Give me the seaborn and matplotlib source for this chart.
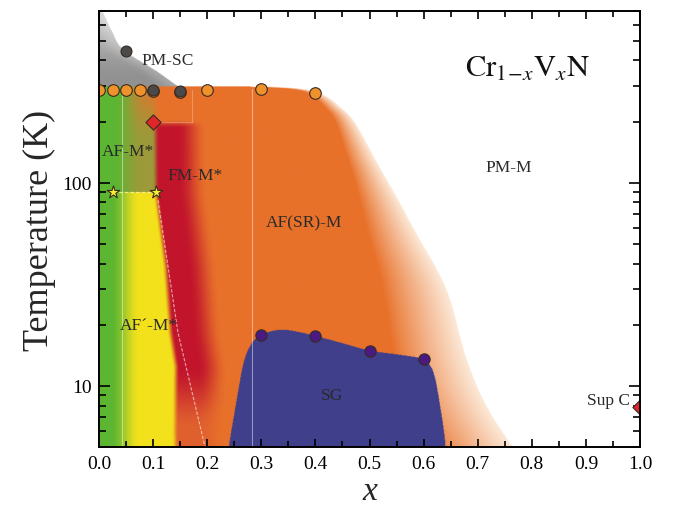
import numpy as np
import matplotlib
matplotlib.use("Agg")
import matplotlib.pyplot as plt
from matplotlib.ticker import MultipleLocator, LogLocator, NullFormatter, FixedLocator
import seaborn as sns
import pandas as pd

# ---------------- data ----------------
# Neel-type transition points (orange circles)
tn_x = [0.0, 0.025, 0.05, 0.075, 0.10, 0.15, 0.20, 0.30, 0.40]
tn_T = [285, 285, 285, 285, 284, 281, 285, 290, 277]
# superconducting / structural points (dark grey circles)
sc_x = [0.05, 0.10, 0.15]
sc_T = [443, 287, 282]
# FM onset (red diamond)
fm_x = [0.10]
fm_T = [200]
# AF' transition (yellow stars)
st_x = [0.025, 0.105]
st_T = [90, 90]
# spin-glass freezing (purple circles)
sg_x = [0.30, 0.40, 0.50, 0.60]
sg_T = [17.8, 17.6, 14.9, 13.6]
# superconductivity of VN (red diamond)
supc_x = [1.0]
supc_T = [7.9]

# phase boundaries (x vs log10 T)
af_edge_x = [0.0, 0.20, 0.33, 0.39, 0.42, 0.445, 0.473, 0.514, 0.556, 0.590, 0.625, 0.649, 0.680, 0.717, 0.767, 0.78]
af_edge_L = [2.474, 2.474, 2.470, 2.455, 2.425, 2.374, 2.296, 2.099, 1.901, 1.734, 1.571, 1.424, 1.128, 0.897, 0.69, 0.64]
af_fade_L = [0.69, 1.45, 1.65, 2.06, 2.30, 2.47]
af_fade_w = [0.15, 0.12, 0.10, 0.055, 0.035, 0.02]
sg_edge_x = [0.232, 0.242, 0.2545, 0.267, 0.279, 0.291, 0.31, 0.335, 0.36, 0.40, 0.45, 0.50, 0.55, 0.595, 0.612, 0.621, 0.630, 0.6395, 0.643]
sg_edge_L = [0.55, 0.734, 0.931, 1.112, 1.194, 1.235, 1.262, 1.276, 1.27, 1.246, 1.21, 1.174, 1.155, 1.135, 1.10, 1.04, 0.91, 0.734, 0.55]
sc_edge_x = [0.004, 0.008, 0.024, 0.045, 0.107, 0.147, 0.165]
sc_edge_L = [2.86, 2.836, 2.745, 2.655, 2.548, 2.474, 2.465]
fm_edge_L = [0.69, 0.77, 1.094, 1.26, 1.586, 1.83, 1.954, 2.6]
fm_edge_x = [0.142, 0.141, 0.143, 0.133, 0.124, 0.112, 0.106, 0.104]

# boundary guide lines
guide_x = [0.109, 0.146, 0.196]
guide_T = [82, 18.3, 5]

T_MIN, T_MAX = 5, 700


def catmull(px, py, n=40):
    """Smooth Catmull-Rom curve through the boundary points."""
    P = np.column_stack([px, py]).astype(float)
    P = np.vstack([P[0], P, P[-1]])
    out = []
    t = np.linspace(0, 1, n, endpoint=False)[:, None]
    for i in range(1, len(P) - 2):
        p0, p1, p2, p3 = P[i - 1], P[i], P[i + 1], P[i + 2]
        out.append(0.5 * ((2 * p1) + (-p0 + p2) * t + (2 * p0 - 5 * p1 + 4 * p2 - p3) * t ** 2
                          + (-p0 + 3 * p1 - 3 * p2 + p3) * t ** 3))
    out.append(P[-2][None, :])
    out = np.vstack(out)
    return out[:, 0], out[:, 1]


# ---------------- colours ----------------
def rgb(h):
    h = h.lstrip("#")
    return np.array([int(h[i:i + 2], 16) for i in (0, 2, 4)]) / 255.0

ORANGE = rgb("#e8712a")
PEACH = rgb("#fce9d8")
GREEN = rgb("#5cb632")
OLIVE = rgb("#9c9a3a")
YELLOW = rgb("#f3e11c")
RED = rgb("#c2152c")
ORED = rgb("#e0602e")
BLUE = rgb("#3f3f8b")

def sm(v, a, b):
    t = np.clip((v - a) / (b - a), 0, 1)
    return t * t * (3 - 2 * t)

def mix(a, b, t):
    t = np.asarray(t)[..., None]
    return a * (1 - t) + b * t

# ---------------- background phase map ----------------
nx, ny = 900, 700
L0, L1 = np.log10(T_MIN), np.log10(T_MAX)
X, L = np.meshgrid((np.arange(nx) + 0.5) / nx,
                   L0 + (np.arange(ny) + 0.5) / ny * (L1 - L0))
img = np.ones((ny, nx, 3))

# AF(SR)-M with its fading edge
cx, cy = catmull(af_edge_x, af_edge_L)
o = np.argsort(cy)
xo = np.interp(L, cy[o], cx[o], right=-1.0)
w = np.interp(L, af_fade_L, af_fade_w)
tf = np.clip((X - (xo - w)) / w, 0, 1)
col_af = mix(ORANGE, PEACH, tf ** 0.9)

# low-x phases
cb = mix(GREEN, YELLOW, sm(X, 0.022, 0.075))
ca = mix(GREEN, OLIVE, sm(X, 0.025, 0.08))
ca = mix(ca, ORANGE, 0.75 * sm(L, 2.2, 2.46) * sm(X, 0.04, 0.1))
cleft = np.where((L < np.log10(90))[..., None], cb, ca)
xr = np.interp(L, fm_edge_L, fm_edge_x)
redc = mix(RED, ORED, sm(L, 1.1, 0.78))
cred = mix(redc, ORANGE, sm(X, xr + 0.04, xr + 0.095))
cred = mix(cred, ORANGE, sm(L, 2.27, 2.31))
cl = mix(cleft, cred, sm(X, xr - 0.007, xr + 0.006))
col_af = np.where((X < 0.28)[..., None], cl, col_af)

inside = X < xo
img = np.where(inside[..., None], col_af, img)

# PM-SC grey
gx, gy = catmull(sc_edge_x, sc_edge_L)
o = np.argsort(gy)
xg = np.interp(L, gy[o], gx[o], left=0.2, right=-1.0)
grey_v = 0.57 + 0.2 * sm(L, 2.5, 2.85) + 0.08 * sm(X, xg - 0.04, xg)
grey = np.repeat(grey_v[..., None], 3, axis=2)
img = np.where(((X < xg) & ~inside)[..., None], grey, img)

# spin glass
sx, sy = catmull(sg_edge_x, sg_edge_L)
Lsg = np.interp(X, sx, sy, left=-5, right=-5)
img = np.where((L < Lsg)[..., None], BLUE, img)

# ---------------- figure ----------------
sns.set_style("ticks")
plt.rcParams["font.family"] = ["Liberation Serif", "DejaVu Serif"]
plt.rcParams["mathtext.fontset"] = "stix"

fig = plt.figure(figsize=(6.77, 5.06), dpi=100)
ax = fig.add_axes([99 / 677, 1 - 448 / 506, 541 / 677, 436 / 506])
ax.set_yscale("log")
ax.set_xlim(0, 1.0)
ax.set_ylim(T_MIN, T_MAX)
ax.imshow(img, origin="lower", extent=(0, 1, 0, 1), transform=ax.transAxes,
          aspect="auto", interpolation="bilinear", zorder=0)

# faint guide lines
lc = dict(color="white", lw=0.8, alpha=0.45, zorder=1)
ax.plot([0.0425, 0.0425], [T_MIN, 285], **lc)
ax.plot([0.283, 0.283], [T_MIN, 290], **lc)
ax.plot([0.172, 0.172], [200, 285], color="white", lw=0.8, alpha=0.25, zorder=1)
ax.plot([0.105, 0.172], [200, 200], color="white", lw=0.8, alpha=0.25, zorder=1)
ax.plot(guide_x, guide_T, color="white", lw=0.8, alpha=0.6, ls=(0, (3, 1.5)), zorder=1)
ax.plot(st_x, st_T, color="#fff59a", lw=0.9, alpha=0.8, ls=(0, (3, 1.5)), zorder=1)

def pts(x, T):
    return pd.DataFrame({"x": x, "T": T})

kw = dict(x="x", y="T", ax=ax, edgecolor="#3a2a20", linewidth=0.8, zorder=5, legend=False)
sns.scatterplot(data=pts(tn_x, tn_T), color="#f0922c", marker="o", s=70, **kw)
sns.scatterplot(data=pts(sc_x, sc_T), color="#4a4a4a", marker="o", s=62, **kw)
sns.scatterplot(data=pts(fm_x, fm_T), color="#e0262a", marker="D", s=60, **kw)
sns.scatterplot(data=pts(st_x, st_T), color="#f6ee30", marker="*", s=90, **kw)
sns.scatterplot(data=pts(sg_x, sg_T), color="#4a1a82", marker="o", s=66, **kw)
sns.scatterplot(data=pts(supc_x, supc_T), color="#e0262a", marker="D", s=60, **kw)
for c in ax.collections:
    c.set_clip_on(True)

# region labels
tc = dict(color="#2a2a2a", fontsize=12.5, ha="center", va="center", zorder=6)
ax.text(0.1275, 403, "PM-SC", **tc)
ax.text(0.0536, 142.6, "AF-M*", **tc)
ax.text(0.178, 109, "FM-M*", **tc)
ax.text(0.379, 64, "AF(SR)-M", **tc)
ax.text(0.757, 120, "PM-M", **tc)
ax.text(0.0925, 20, "AF\u00b4-M*", **tc)
ax.text(0.4316, 9.0, "SG", **tc)
ax.text(0.941, 8.5, "Sup C", **tc)
ax.text(0.676, 0.851, r"$\mathrm{Cr}_{1\!-\!x}\mathrm{V}_{x}\mathrm{N}$", transform=ax.transAxes,
        fontsize=22, ha="left", va="baseline", color="#111111", zorder=6)

# axes styling
ax.set_xticks([0.0, 0.1, 0.2, 0.3, 0.4, 0.5, 0.6, 0.7, 0.8, 0.9, 1.0])
ax.set_xticklabels(["0.0", "0.1", "0.2", "0.3", "0.4", "0.5", "0.6", "0.7", "0.8", "0.9", "1.0"])
ax.xaxis.set_minor_locator(MultipleLocator(0.05))
ax.yaxis.set_major_locator(FixedLocator([10, 100]))
ax.set_yticklabels(["10", "100"])
ax.yaxis.set_minor_locator(LogLocator(base=10, subs=np.arange(2, 10)))
ax.yaxis.set_minor_formatter(NullFormatter())
ax.tick_params(which="both", direction="in", top=True, right=True, width=1.2, colors="black")
ax.tick_params(axis="x", which="major", length=6, labelsize=14, pad=6)
ax.tick_params(axis="x", which="minor", length=4.5)
ax.tick_params(axis="y", which="major", length=8, labelsize=14, pad=5)
ax.tick_params(axis="y", which="minor", length=5)
for sp in ax.spines.values():
    sp.set_linewidth(1.4)
    sp.set_color("black")
    sp.set_zorder(7)
ax.set_xlabel("x", fontsize=24, fontstyle="italic", labelpad=2)
ax.set_ylabel("Temperature (K)", fontsize=26, labelpad=5)

fig.savefig("out.png", dpi=100)
